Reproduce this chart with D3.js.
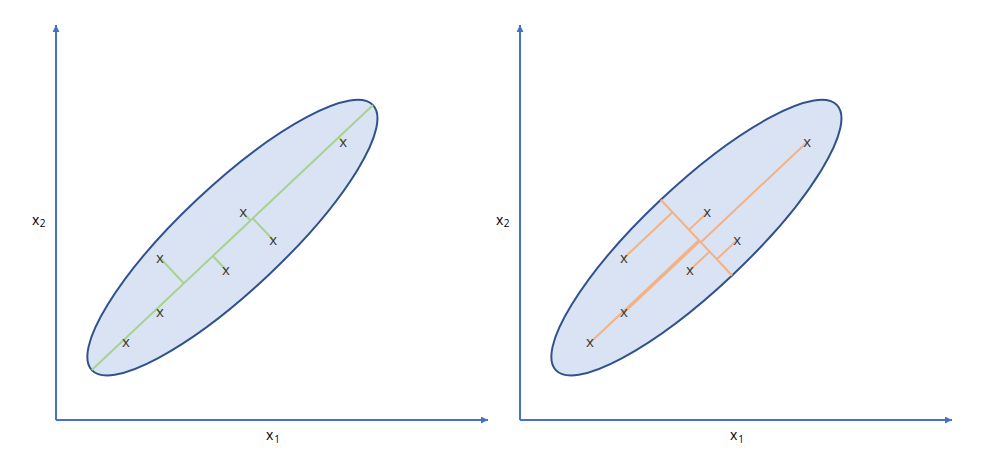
<!DOCTYPE html>
<html>
<head>
<meta charset="utf-8">
<script src="https://cdn.jsdelivr.net/npm/d3@7"></script>
<style>
  body { margin: 0; background: #fff; }
  svg { display: block; }
  .mark { font-family: "Open Sans", "Liberation Sans", sans-serif; font-size: 15px; fill: #3b3b3b; }
  .label { font-family: "Open Sans", "Liberation Sans", sans-serif; font-size: 14px; fill: #000; }
</style>
</head>
<body>
<svg id="chart"></svg>
<script>
/* data, in axis units (1 unit = 40px) */
var pointsX = [7.18, 4.68, 5.43, 2.6, 4.25, 2.6, 1.75];
var pointsY = [6.95, 5.18, 4.5, 4.05, 3.75, 2.68, 1.93];
var ellipseCenter = [4.41, 4.56];
var ellipseAngle = 43.3;   // degrees, counter-clockwise from x1
var semiMajor = 4.83;
var semiMinor = 1.3;
var xLabels = ["x", "1"];
var yLabels = ["x", "2"];
var panelNames = ["major", "minor"];

var width = 986, height = 472;
var unit = 40;
var xDomain = [0, 432 / unit], yDomain = [0, 395 / unit];

var svg = d3.select("#chart").attr("width", width).attr("height", height);

var defs = svg.append("defs");
defs.append("marker")
    .attr("id", "arrow")
    .attr("viewBox", "0 0 10 10")
    .attr("refX", 10).attr("refY", 5)
    .attr("markerWidth", 7).attr("markerHeight", 7)
    .attr("markerUnits", "userSpaceOnUse")
    .attr("orient", "auto")
  .append("path")
    .attr("d", "M0,0L10,5L0,10z")
    .attr("fill", "#4472C4");

var data = pointsX.map(function(d, i) { return { x: d, y: pointsY[i] }; });

var rad = ellipseAngle * Math.PI / 180;
var u = [Math.cos(rad), Math.sin(rad)];     // major direction
var m = [Math.sin(rad), -Math.cos(rad)];    // minor direction

function foot(p, dir) {
    var dx = p.x - ellipseCenter[0], dy = p.y - ellipseCenter[1];
    var t = dx * dir[0] + dy * dir[1];
    return { x: ellipseCenter[0] + t * dir[0], y: ellipseCenter[1] + t * dir[1] };
}

panelNames.forEach(function(name, k) {
    var x0 = 56 + k * 464;
    var xScale = d3.scaleLinear().domain(xDomain).range([x0, x0 + 432]);
    var yScale = d3.scaleLinear().domain(yDomain).range([420, 25]);

    var g = svg.append("g").attr("id", name);

    /* ellipse */
    g.append("ellipse")
        .attr("transform", "translate(" + xScale(ellipseCenter[0]) + "," + yScale(ellipseCenter[1]) + ") rotate(" + (-ellipseAngle) + ")")
        .attr("rx", semiMajor * unit)
        .attr("ry", semiMinor * unit)
        .attr("fill", "#DAE3F3")
        .attr("stroke", "#2F528F")
        .attr("stroke-width", 2);

    var dir = name === "major" ? u : m;
    var len = name === "major" ? semiMajor : semiMinor;
    var color = name === "major" ? "#A9D18E" : "#F4B183";

    /* projection lines */
    g.append("g").selectAll("line")
        .data(data)
        .enter().append("line")
        .attr("x1", function(d) { return xScale(d.x); })
        .attr("y1", function(d) { return yScale(d.y); })
        .attr("x2", function(d) { return xScale(foot(d, dir).x); })
        .attr("y2", function(d) { return yScale(foot(d, dir).y); })
        .attr("stroke", color)
        .attr("stroke-width", 2);

    /* axis of the ellipse */
    g.append("line")
        .attr("x1", xScale(ellipseCenter[0] - len * dir[0]))
        .attr("y1", yScale(ellipseCenter[1] - len * dir[1]))
        .attr("x2", xScale(ellipseCenter[0] + len * dir[0]))
        .attr("y2", yScale(ellipseCenter[1] + len * dir[1]))
        .attr("stroke", color)
        .attr("stroke-width", 2);

    /* x marks */
    g.append("g").selectAll("text")
        .data(data)
        .enter().append("text")
        .attr("class", "mark")
        .attr("x", function(d) { return xScale(d.x); })
        .attr("y", function(d) { return yScale(d.y); })
        .attr("dy", "0.3em")
        .attr("text-anchor", "middle")
        .text("x");

    /* axes */
    g.append("line")
        .attr("x1", xScale(0)).attr("y1", yScale(0))
        .attr("x2", xScale(xDomain[1])).attr("y2", yScale(0))
        .attr("stroke", "#4472C4").attr("stroke-width", 2)
        .attr("marker-end", "url(#arrow)");
    g.append("line")
        .attr("x1", xScale(0)).attr("y1", yScale(0))
        .attr("x2", xScale(0)).attr("y2", yScale(yDomain[1]))
        .attr("stroke", "#4472C4").attr("stroke-width", 2)
        .attr("marker-end", "url(#arrow)");

    var xl = g.append("text").attr("class", "label")
        .attr("x", x0 + 210).attr("y", 440);
    xl.append("tspan").text(xLabels[0]);
    xl.append("tspan").attr("dy", 2.5).attr("dx", 1).attr("font-size", 10).text(xLabels[1]);

    var yl = g.append("text").attr("class", "label")
        .attr("x", x0 - 24).attr("y", 225);
    yl.append("tspan").text(yLabels[0]);
    yl.append("tspan").attr("dy", 2).attr("dx", 0.5).attr("font-size", 10).text(yLabels[1]);
});
</script>
</body>
</html>
